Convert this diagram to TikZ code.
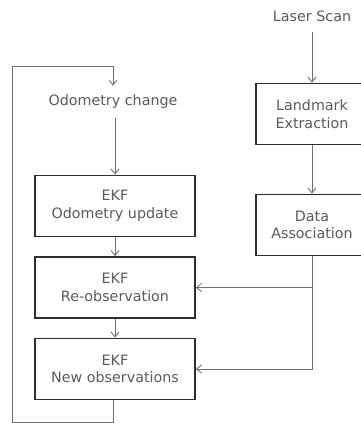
\documentclass[tikz,border=0pt]{standalone}
\usepackage{fontspec}
\setmainfont{DejaVu Sans}
\usetikzlibrary{arrows.meta}
\definecolor{txtgray}{HTML}{5A5A5A}
\definecolor{linegray}{HTML}{707070}
\definecolor{boxedge}{HTML}{2E2E2E}
\begin{document}
\begin{tikzpicture}[x=1pt,y=-1pt,
  font=\fontsize{14.3}{17.5}\selectfont,
  every node/.style={text=txtgray, align=center},
  procbox/.style={draw=boxedge, line width=1.7pt, minimum width=#1, minimum height=61pt, inner sep=0pt},
  procbox/.default=160pt,
  label text/.style={inner sep=0pt, minimum height=32pt},
  conn/.style={draw=linegray, line width=0.9pt},
  arr/.style={conn, -{Straight Barb[length=5pt,width=8pt,line width=0.9pt]}}]
  \useasboundingbox (0,0) rectangle (361,423);

  % inputs
  \node[label text] (scan) at (312,16) {Laser Scan};
  \node[label text] (odo) at (113,102) {Odometry change};

  % laser branch
  \node[procbox=112pt] (extract) at (312,114) {Landmark\\Extraction};
  \node[procbox=112pt] (assoc) at (312,225) {Data\\Association};

  % EKF chain
  \node[procbox] (update) at (115,206) {EKF\\Odometry update};
  \node[procbox] (reobs) at (115,287.5) {EKF\\Re-observation};
  \node[procbox] (newobs) at (115,369) {EKF\\New observations};

  % loop corners
  \coordinate (loopBR) at (113,422);
  \coordinate (loopBL) at (12,422);
  \coordinate (loopTL) at (12,66);
  \coordinate (loopTR) at (113,66);

  \draw[arr] (scan.south) -- (extract.north);
  \draw[arr] (extract.south) -- (assoc.north);
  \draw[arr] (odo.south -| update.north) -- (update.north);
  \draw[arr] (update.south) -- (reobs.north);
  \draw[arr] (reobs.south) -- (newobs.north);

  \draw[arr] (assoc.south) |- (newobs.east);
  \draw[arr] (assoc.south |- reobs.east) -- (reobs.east);

  \draw[arr] (newobs.south -| loopBR) -- (loopBR) -- (loopBL) -- (loopTL) -- (loopTR) -- (odo.north -| loopTR);
\end{tikzpicture}
\end{document}
